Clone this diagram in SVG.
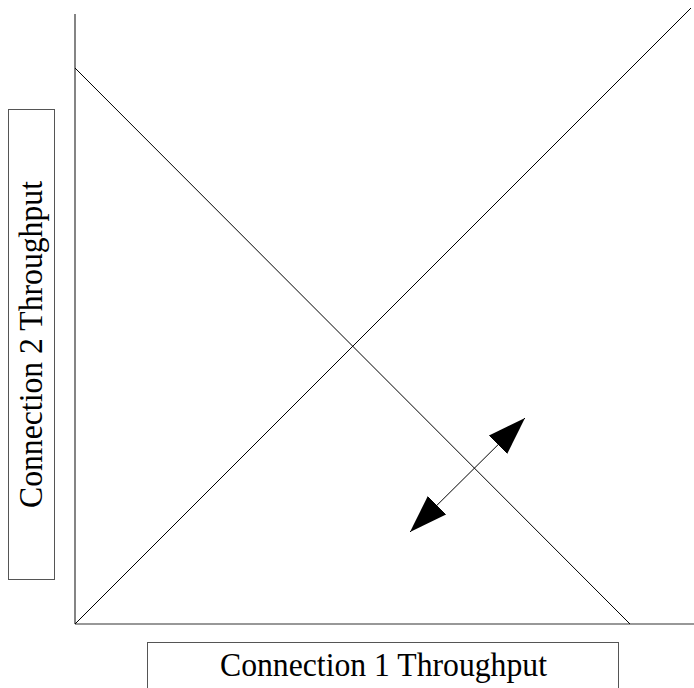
<svg xmlns="http://www.w3.org/2000/svg" width="694" height="688" viewBox="0 0 694 688">
<style>
.axis{stroke:#333;stroke-width:1.2;fill:none}
.line{stroke:#000;stroke-width:1;fill:none}
.box{fill:#fff;stroke:#555;stroke-width:1}
.lbl{font-family:"Liberation Serif","Times New Roman",serif;font-size:34px;fill:#000;text-anchor:middle}
</style>
<defs>
<marker id="head" markerUnits="userSpaceOnUse" markerWidth="40" markerHeight="28" refX="38" refY="13" orient="auto-start-reverse">
<path d="M0,0 L38,13 L0,26 z" fill="#000"/>
</marker>
</defs>
<rect width="694" height="688" fill="#fff"/>
<g id="connectors">
<line class="axis" x1="75" y1="14" x2="75" y2="624"/>
<line class="axis" x1="75" y1="624" x2="694" y2="624"/>
<line class="line" x1="75" y1="68" x2="630" y2="624"/>
<line class="line" x1="75" y1="624" x2="691" y2="8"/>
<line class="line" x1="410" y1="532" x2="525" y2="418" marker-start="url(#head)" marker-end="url(#head)"/>
</g>
<g id="xlabel">
<rect class="box" x="147.5" y="642.5" width="471" height="50"/>
<text class="lbl" x="383.5" y="676" textLength="327" lengthAdjust="spacingAndGlyphs">Connection 1 Throughput</text>
</g>
<g id="ylabel">
<rect class="box" x="8.5" y="109.5" width="46" height="470"/>
<text class="lbl" transform="translate(41.5,344.5) rotate(-90)" textLength="327" lengthAdjust="spacingAndGlyphs">Connection 2 Throughput</text>
</g>
</svg>
